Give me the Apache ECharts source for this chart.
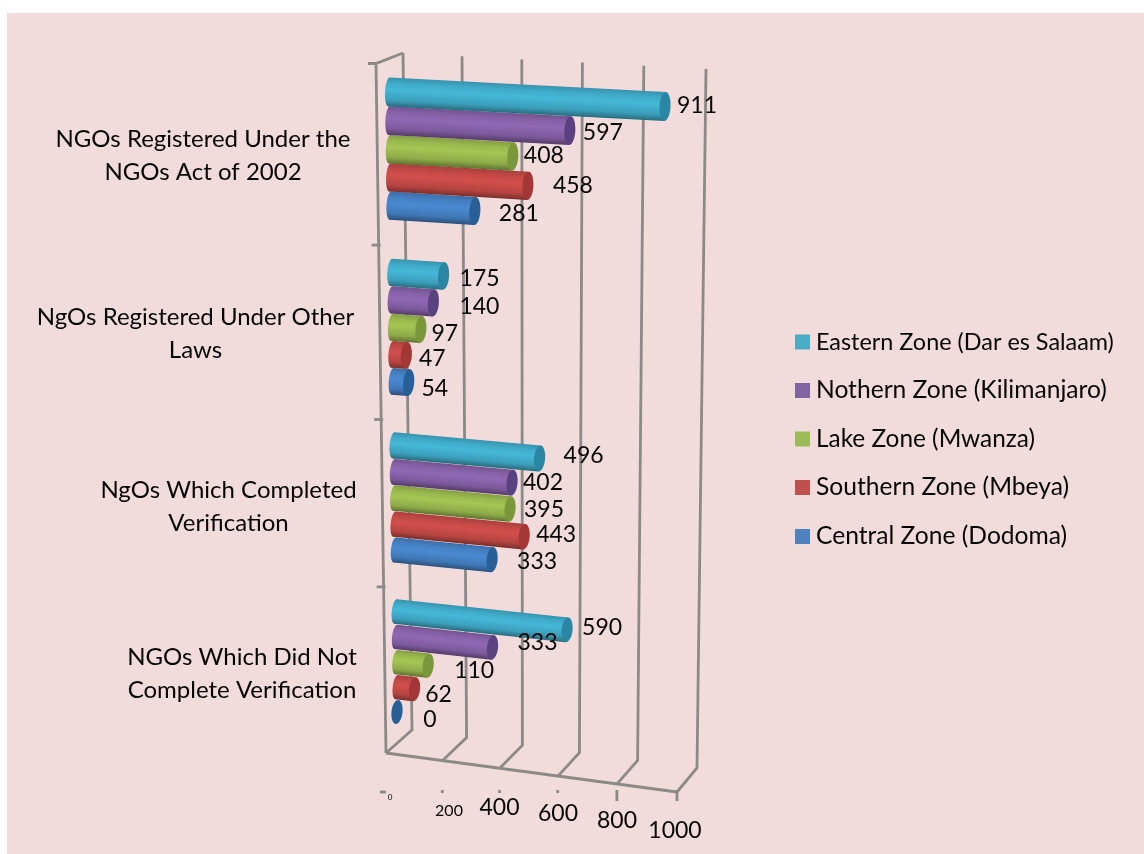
<!DOCTYPE html>
<html>
<head>
<meta charset="utf-8">
<style>html,body{margin:0;padding:0;background:#fff}#main{width:1144px;height:854px}</style>
<script src="https://cdn.jsdelivr.net/npm/echarts@6/dist/echarts.min.js"></script>
</head>
<body>
<div id="main"></div>
<script>
// ---- data ----
const categories = [
  'NGOs Registered Under the\nNGOs Act of 2002',
  'NgOs Registered Under Other\nLaws',
  'NgOs Which Completed\nVerification',
  'NGOs Which Did Not\nComplete Verification'
];
const zoneNames = [
  'Eastern Zone (Dar es Salaam)',
  'Nothern Zone (Kilimanjaro)',
  'Lake Zone (Mwanza)',
  'Southern Zone (Mbeya)',
  'Central Zone (Dodoma)'
];
const easternZone  = [911, 175, 496, 590];
const northernZone = [597, 140, 402, 333];
const lakeZone     = [408,  97, 395, 110];
const southernZone = [458,  47, 443,  62];
const centralZone  = [281,  54, 333,   0];
const tickValues = [0, 200, 400, 600, 800, 1000];

// ---- styles / layout ----
const zoneValues = [easternZone, northernZone, lakeZone, southernZone, centralZone];
const legendColors = ['#4bacc6', '#8064a2', '#9bbb59', '#c0504d', '#4f81bd'];
const bodyColors = ['#45b8d8', '#9068b4', '#a5c654', '#d24f4b', '#4a8ad2'];
const capColors = ['#2a87a3', '#59427f', '#7a983a', '#a33735', '#285f97'];
const FONT = 'Lato';
const TEXT_COLOR = '#050505';
const GRID_COLOR = '#8c8989';
const LINE_W = 2.8;
const GRID = {left: 389, top: 60, width: 303, height: 683.5};
const SLOT = GRID.height / 4 / 6.4;            // one bar thickness on the flat grid

function shade(hex, k) {
  const n = parseInt(hex.slice(1), 16);
  const ch = s => Math.round(((n >> s) & 255) * k);
  return 'rgb(' + ch(16) + ',' + ch(8) + ',' + ch(0) + ')';
}

// flat grid -> tilted plane the bars stand in
function warp(px, py) {
  const f = (px - GRID.left) / GRID.width;
  const u = ((py - GRID.top) / SLOT - 1.2) / 23.2;
  const t = u * 1.077 / (1 + 0.077 * u);
  const lx = 389 + 8 * t, ly = 92 + 620 * t;
  const rx = 692 - 7 * t, ry = 108 + 638 * t;
  return {x: lx + (rx - lx) * f, y: ly + (ry - ly) * f, t: t};
}
// three wall lines per value fraction
const backTop = f => [403 + 293 * f + 10 * f * f, 53 + 16 * f];
const backBottom = f => [412 + 270 * f + 15 * f * f, 730 + 38 * f];
const frontBottom = f => [386 + 279 * f + 12 * f * f, 753 + 39 * f];

// data label offsets from the bar end [dx to label centre, dy]
const labelNudge = [
  [[32, -1], [33, 2], [31, -1], [45, 0], [44, 3]],
  [[36, 2], [46, 4], [24, 4], [26, 3], [26, 6]],
  [[44, -3], [31, 0], [34, 1], [32, -2], [45, 2]],
  [[35, -2], [45, -5], [46, 5], [24, 5], [33, 8]]
];
const categoryAnchors = [[203, 155.5], [195.5, 333.5], [228.5, 506.5], [242, 674]];
const tickLabelLayout = [
  {x: 390, y: 797, size: 8}, {x: 449, y: 811, size: 16}, {x: 499.5, y: 808, size: 23},
  {x: 558, y: 814, size: 23}, {x: 617, y: 821, size: 23}, {x: 675, y: 831, size: 23}
];
const legendFontSizes = [23.4, 24.6, 24.4, 24.6, 24.6];

function barRender(j) {
  return function (params, api) {
    const val = api.value(0), row = api.value(1);
    const band = api.size([0, 1])[1];
    const off = (j - 2) / 6.4 * band;
    const c0 = api.coord([0, row]), c1 = api.coord([val, row]), cMax = api.coord([1000, row]);
    const L = warp(c0[0], c0[1] + off), E = warp(c1[0], c1[1] + off), M = warp(cMax[0], cMax[1] + off);
    const a = Math.atan2(M.y - L.y, M.x - L.x);
    const len = Math.hypot(E.x - L.x, E.y - L.y);
    const r = 14.5 - 2.5 * L.t;
    const base = bodyColors[j];
    const grad = {
      type: 'linear', x: 0, y: 0, x2: 0, y2: 1,
      colorStops: [
        {offset: 0, color: shade(base, 0.8)},
        {offset: 0.2, color: shade(base, 0.93)},
        {offset: 0.42, color: shade(base, 1)},
        {offset: 0.78, color: shade(base, 0.86)},
        {offset: 1, color: shade(base, 0.58)}
      ]
    };
    const children = [];
    if (len > 0.5) {
      children.push({type: 'ellipse', shape: {cx: 0, cy: 0, rx: 4, ry: r}, style: {fill: grad}});
      children.push({type: 'rect', shape: {x: 0, y: -r, width: len, height: 2 * r}, style: {fill: grad}});
    }
    children.push({type: 'ellipse', shape: {cx: len, cy: 0, rx: 5.5, ry: r}, style: {fill: capColors[j]}});
    return {type: 'group', x: L.x, y: L.y, rotation: -a, children: children};
  };
}

const barSeries = zoneNames.map((name, j) => ({
  type: 'custom',
  name: name,
  z: 10 - j,
  coordinateSystem: 'cartesian2d',
  itemStyle: {color: legendColors[j]},
  encode: {x: 0, y: 1},
  data: zoneValues[j].map((v, i) => [v, i]),
  renderItem: barRender(j)
}));

const labelData = [];
zoneValues.forEach((vals, j) => vals.forEach((v, i) => labelData.push([v, i, j])));

const dataLabelSeries = {
  type: 'custom',
  name: 'data labels',
  z: 30,
  coordinateSystem: 'cartesian2d',
  encode: {x: 0, y: 1},
  data: labelData,
  renderItem: function (params, api) {
    const val = api.value(0), row = api.value(1), j = api.value(2);
    const band = api.size([0, 1])[1];
    const c = api.coord([val, row]);
    const E = warp(c[0], c[1] + (j - 2) / 6.4 * band);
    const n = labelNudge[row][j];
    return {type: 'text', x: E.x + n[0], y: E.y + n[1],
      style: {text: String(val), fill: TEXT_COLOR, fontFamily: FONT, fontSize: 23, align: 'center', verticalAlign: 'middle'}};
  }
};

const wallSeries = {
  type: 'custom',
  name: 'value walls',
  z: 1,
  coordinateSystem: 'cartesian2d',
  encode: {x: 0},
  data: tickValues.map(v => [v, 0]),
  renderItem: function (params, api) {
    const idx = params.dataIndex;
    const c = api.coord([api.value(0), 0]);
    const f = (c[0] - GRID.left) / GRID.width;
    const bt = backTop(f), bb = backBottom(f), fb = frontBottom(f);
    const line = {stroke: GRID_COLOR, lineWidth: LINE_W, fill: null};
    const tick = tickLabelLayout[idx];
    const children = [
      {type: 'polyline', shape: {points: [bt, bb, fb]}, style: line},
      {type: 'text', x: tick.x, y: tick.y,
        style: {text: String(api.value(0)), fill: TEXT_COLOR, fontFamily: FONT, fontSize: tick.size, align: 'center', verticalAlign: 'middle'}}
    ];
    if (idx === 0) {
      children.push({type: 'line', shape: {x1: 380, y1: 792, x2: 386, y2: 792}, style: line});
    } else {
      const long = idx >= 4;
      children.push({type: 'line', shape: {x1: fb[0], y1: 790, x2: fb[0], y2: long ? 801 : 793},
        style: {stroke: GRID_COLOR, lineWidth: LINE_W}});
    }
    return {type: 'group', children: children};
  }
};

const frameSeries = {
  type: 'custom',
  name: 'frame',
  z: 1,
  coordinateSystem: 'cartesian2d',
  encode: {x: 0},
  data: [[0, 0]],
  renderItem: function () {
    const line = {stroke: GRID_COLOR, lineWidth: LINE_W, fill: null};
    const zero = frontBottom(0), full = frontBottom(1);
    return {type: 'group', children: [
      {type: 'polyline', shape: {points: [[368, 63.5], [376, 63.5], backTop(0)]}, style: line},
      {type: 'line', shape: {x1: 376, y1: 63, x2: zero[0], y2: zero[1]}, style: line},
      {type: 'line', shape: {x1: zero[0], y1: zero[1], x2: full[0], y2: full[1]}, style: line}
    ]};
  }
};

const categorySeries = {
  type: 'custom',
  name: 'category labels',
  z: 5,
  coordinateSystem: 'cartesian2d',
  encode: {y: 1},
  data: categories.map((c, i) => [0, i]),
  renderItem: function (params, api) {
    const row = api.value(1);
    const band = api.size([0, 1])[1];
    const c = api.coord([0, row]);
    const a = categoryAnchors[row];
    const children = [{type: 'text', x: a[0], y: a[1],
      style: {text: categories[row], fill: TEXT_COLOR, fontFamily: FONT, fontSize: 24, lineHeight: 33, align: 'center', verticalAlign: 'middle'}}];
    if (row < 3) {
      const b = warp(c[0], c[1] + band / 2);
      const y = b.y + 6;
      const lx = 376 + 10 * (y - 63) / 690;
      children.push({type: 'line', shape: {x1: lx - 7, y1: y, x2: lx + 2, y2: y}, style: {stroke: GRID_COLOR, lineWidth: LINE_W}});
    }
    return {type: 'group', children: children};
  }
};

const chart = echarts.init(document.getElementById('main'), null, {renderer: 'canvas'});
chart.setOption({
  animation: false,
  backgroundColor: '#ffffff',
  textStyle: {fontFamily: FONT},
  graphic: {elements: [{type: 'rect', z: -100, silent: true,
    shape: {x: 7, y: 13, width: 1137, height: 841}, style: {fill: '#f2dcdb'}}]},
  grid: {left: GRID.left, top: GRID.top, width: GRID.width, height: GRID.height, containLabel: false},
  xAxis: {type: 'value', min: 0, max: 1000, interval: 200, show: false},
  yAxis: {type: 'category', data: categories, inverse: true, show: false},
  legend: {
    data: zoneNames.map((name, j) => ({name: name, textStyle: {fontSize: legendFontSizes[j]}})),
    orient: 'vertical', left: 790, top: 325, icon: 'rect',
    itemWidth: 15, itemHeight: 15, itemGap: 24, selectedMode: false,
    textStyle: {fontFamily: FONT, fontSize: 24, color: TEXT_COLOR, lineHeight: 24, padding: [0, 0, 0, 1]}
  },
  tooltip: {show: false},
  series: [wallSeries, frameSeries, categorySeries].concat(barSeries, [dataLabelSeries])
});
</script>
</body>
</html>
